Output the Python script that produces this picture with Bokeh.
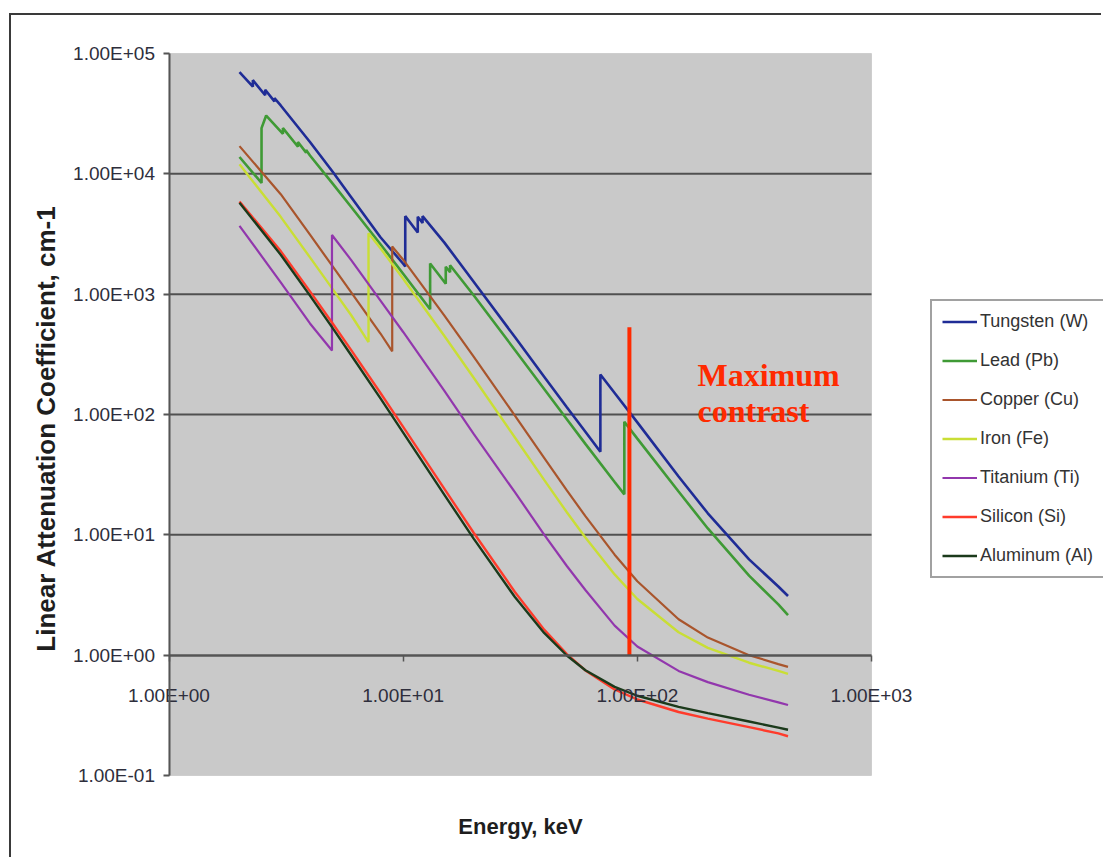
from bokeh.plotting import figure
from bokeh.models import (LogAxis, FixedTicker, Legend, LegendItem, Label,
                          BoxAnnotation)
from bokeh.core.properties import value
from bokeh.embed import file_html
from bokeh.resources import INLINE
import math

# ---------------- data ----------------
x_limits = (1, 1000)
y_limits = (0.1, 100000)
x_ticks = [1, 10, 100, 1000]
x_tick_labels = ["1.00E+00", "1.00E+01", "1.00E+02", "1.00E+03"]
y_ticks = [0.1, 1, 10, 100, 1000, 10000, 100000]
y_tick_labels = ["1.00E-01", "1.00E+00", "1.00E+01", "1.00E+02",
                 "1.00E+03", "1.00E+04", "1.00E+05"]
grid_values = [10, 100, 1000, 10000]

names = ["Tungsten (W)", "Lead (Pb)", "Copper (Cu)", "Iron (Fe)",
         "Titanium (Ti)", "Silicon (Si)", "Aluminum (Al)"]

w_energy = [2.0, 2.281, 2.281, 2.575, 2.575, 2.82, 2.82, 3, 4, 5, 6, 8, 10,
            10.207, 10.207, 11.544, 11.544, 12.1, 12.1, 15, 20, 30, 40, 50, 60,
            69.525, 69.525, 80, 100, 150, 200, 300, 400, 440]
w_mu = [70000, 53000, 60000, 45000, 50000, 40000, 42500, 37000, 18400, 10400,
        6400, 2970, 1790, 1700, 4450, 3250, 4400, 3900, 4450, 2680, 1270, 440,
        206, 115, 72, 49, 215, 151, 86, 30.5, 15.1, 6.25, 3.72, 3.1]

pb_energy = [2.0, 2.484, 2.484, 2.6, 3.066, 3.066, 3.554, 3.554, 3.851, 3.851,
             4, 5, 6, 8, 10, 13.035, 13.035, 15.2, 15.2, 15.86, 15.86, 20, 30,
             40, 50, 60, 80, 88.0, 88.0, 100, 150, 200, 300, 400, 440]
pb_mu = [13800, 8400, 24000, 30500, 21500, 24000, 16800, 18400, 15000, 15800,
         14200, 8290, 5300, 2600, 1480, 750, 1800, 1220, 1690, 1520, 1740, 980,
         344, 163, 91.3, 57.0, 27.5, 21.7, 87, 63, 22.9, 11.3, 4.58, 2.64, 2.15]

cu_energy = [2, 3, 4, 5, 6, 8, 8.979, 8.979, 10, 15, 20, 30, 40, 50, 60, 80,
             100, 150, 200, 300, 400, 440]
cu_mu = [17000, 6770, 3120, 1700, 1036, 471, 335, 2490, 1934, 663, 303, 97.8,
         43.6, 23.4, 14.3, 6.84, 4.11, 1.99, 1.40, 1.00, 0.843, 0.80]

fe_energy = [2, 3, 4, 5, 6, 7.112, 7.112, 8, 10, 15, 20, 30, 40, 50, 60, 80,
             100, 150, 200, 300, 400, 440]
fe_mu = [12000, 4390, 2021, 1101, 668, 400, 3210, 2406, 1343, 449, 202, 64.4,
         28.6, 15.4, 9.49, 4.69, 2.93, 1.55, 1.15, 0.865, 0.740, 0.70]

ti_energy = [2, 3, 4, 4.966, 4.966, 6, 8, 10, 15, 20, 30, 40, 50, 60, 80, 100,
             150, 200, 300, 400, 440]
ti_mu = [3700, 1253, 571, 340, 3100, 1920, 883, 485, 157, 69, 22.6, 10.05,
         5.51, 3.48, 1.76, 1.18, 0.74, 0.597, 0.469, 0.405, 0.385]

si_energy = [2, 3, 4, 5, 6, 8, 10, 15, 20, 30, 40, 50, 60, 80, 100, 150, 200,
             300, 400, 440]
si_mu = [5900, 2280, 1055, 571, 343, 151, 79.0, 24.1, 10.4, 3.35, 1.63, 1.02,
         0.747, 0.519, 0.428, 0.337, 0.297, 0.252, 0.224, 0.212]

al_energy = [2, 3, 4, 5, 6, 8, 10, 15, 20, 30, 40, 50, 60, 80, 100, 150, 200,
             300, 400, 440]
al_mu = [5750, 2127, 973, 522, 311, 136, 70.8, 21.5, 9.29, 3.04, 1.53, 0.994,
         0.750, 0.545, 0.460, 0.372, 0.330, 0.281, 0.250, 0.240]

energies = [w_energy, pb_energy, cu_energy, fe_energy, ti_energy, si_energy, al_energy]
mus = [w_mu, pb_mu, cu_mu, fe_mu, ti_mu, si_mu, al_mu]

contrast_energy = [92.5, 92.5]
contrast_mu = [1.0, 530.0]
note_lines = ["Maximum", "contrast"]

x_title = "Energy, keV"
y_title = "Linear Attenuation Coefficient, cm-1"

# ---------------- layout / style ----------------
colors = ["#1f2c96", "#3f9a35", "#a9552c", "#c9de35", "#9237ad", "#ff3b2b", "#1b3a1b"]
widths = [2.6, 2.6, 2.2, 2.4, 2.2, 2.4, 2.4]
TICK_FONT = "Liberation Sans"
TICK_COLOR = "#2e2e3c"
AXIS_GREY = "#555555"

W, H = 1092, 844                 # canvas size (canvas starts at page 11,15)
AX_L, AX_R = 157.5, 860.0        # canvas px of x = 1 and x = 1000
AY_T, AY_B = 38.0, 760.0         # canvas px of y = 1e5 and y = 0.1
DX = (AX_R - AX_L) / 3.0         # px per decade
DY = (AY_B - AY_T) / 6.0


def ex(px):
    return 10 ** ((px - AX_L) / DX)


def ey(py):
    return 10 ** (5 - (py - AY_T) / DY)


p = figure(width=W, height=H, x_axis_type="log", y_axis_type="log",
           x_range=(ex(0), ex(W)), y_range=(ey(H), ey(0)),
           x_axis_location=None, y_axis_location=None,
           output_backend="svg", toolbar_location=None,
           min_border=0, min_border_left=0, min_border_right=0,
           min_border_top=0, min_border_bottom=0,
           background_fill_color="white", border_fill_color="white",
           outline_line_color=None)
p.styles = {"margin-left": "9px", "margin-top": "13px",
            "border-left": "2px solid #3a3a3a", "border-top": "2px solid #3a3a3a"}
p.xgrid.visible = False
p.ygrid.visible = False

# plot area
p.add_layout(BoxAnnotation(left=x_limits[0], right=x_limits[1],
                           bottom=y_limits[0], top=y_limits[1],
                           fill_color="#c9c9c9", fill_alpha=1,
                           line_color="#9a9a9a", line_width=1, level="underlay"))

# horizontal grid lines
p.segment(x0=[x_limits[0]] * len(grid_values), x1=[x_limits[1]] * len(grid_values),
          y0=grid_values, y1=grid_values, line_color="#505050", line_width=2)

# y axis at x = 1
yax = LogAxis(fixed_location=x_limits[0], bounds=y_limits,
              ticker=FixedTicker(ticks=y_ticks, minor_ticks=[]),
              major_label_overrides={t: s for t, s in zip(y_ticks, y_tick_labels)},
              axis_line_color=AXIS_GREY, axis_line_width=2,
              major_tick_line_color=AXIS_GREY, major_tick_line_width=2,
              major_tick_out=6, major_tick_in=0, minor_tick_line_color=None,
              major_label_standoff=8, major_label_text_font=TICK_FONT,
              major_label_text_font_size="19px", major_label_text_color=TICK_COLOR)
p.add_layout(yax, "left")

# x axis crossing at y = 1
xax = LogAxis(fixed_location=1, bounds=x_limits,
              ticker=FixedTicker(ticks=x_ticks, minor_ticks=[]),
              major_label_overrides={t: s for t, s in zip(x_ticks, x_tick_labels)},
              axis_line_color=AXIS_GREY, axis_line_width=2.5,
              major_tick_line_color=AXIS_GREY, major_tick_line_width=1.5,
              major_tick_out=6, major_tick_in=0, minor_tick_line_color=None,
              major_label_standoff=24, major_label_text_font=TICK_FONT,
              major_label_text_font_size="19px", major_label_text_color=TICK_COLOR)
p.add_layout(xax, "below")

# axis titles
p.add_layout(Label(x=ex(509), y=ey(811), text=x_title, text_align="center",
                   text_baseline="middle", text_font=TICK_FONT,
                   text_font_style="bold", text_font_size="22px",
                   text_color="#1e1e1e"))
p.add_layout(Label(x=ex(34), y=ey(413), text=y_title, text_align="center",
                   text_baseline="middle", angle=math.pi / 2,
                   text_font=TICK_FONT, text_font_style="bold",
                   text_font_size="26px", text_color="#1e1e1e"))

# series
items = []
for name, e, m, c, w in zip(names, energies, mus, colors, widths):
    r = p.line(e, m, line_color=c, line_width=w)
    items.append(LegendItem(label=name, renderers=[r]))

# maximum-contrast marker
p.line(contrast_energy, contrast_mu, line_color="#ff2a00", line_width=4)
p.text(x=[ex(686)] * 2, y=[ey(359), ey(395)], text=note_lines,
       text_font=value("Liberation Serif"), text_font_style="bold",
       text_font_size="32px", text_color="#ff2a00", text_baseline="alphabetic",
       text_align="left")

legend = Legend(items=items, location=(919, 281), margin=0, padding=10,
                spacing=18, glyph_width=35, glyph_height=21, label_height=21,
                label_standoff=3, label_text_font=TICK_FONT,
                label_text_font_size="18px", label_text_color="#333333",
                label_text_baseline="middle",
                border_line_color="#444444", border_line_width=2,
                background_fill_color="white", background_fill_alpha=1)
p.add_layout(legend, "center")

open("out.html", "w").write(file_html(p, INLINE))
